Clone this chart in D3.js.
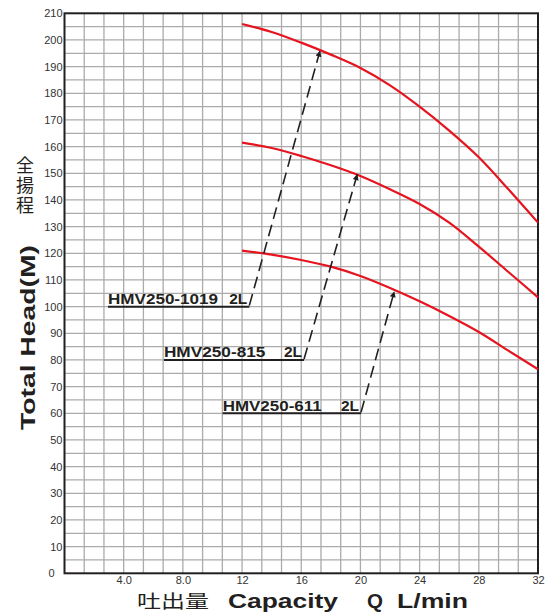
<!DOCTYPE html>
<html><head><meta charset="utf-8">
<script src="https://cdn.jsdelivr.net/npm/d3@7"></script>
<style>
body{margin:0;background:#fff;}
svg{display:block;font-family:"Liberation Sans",Arial,sans-serif;}
</style></head>
<body><svg id="c" width="558" height="613"></svg>
<script>
// ---- data ----
const flowQ = [12, 14, 16, 18, 20, 22, 24, 26, 28, 30, 32];
const head1019 = [206, 203, 199, 194.5, 189.5, 183, 175, 166, 156, 144, 131.5];
const head815  = [161.5, 159.5, 156.5, 153, 149, 144, 138.5, 131.5, 122.5, 113, 103.5];
const head611  = [121, 119.5, 117.5, 115, 111.5, 107, 102, 96.5, 90.5, 83.5, 76.5];
const modelNames = ["HMV250-1019", "HMV250-815", "HMV250-611"];
const modelSuffix = ["2L", "2L", "2L"];
// label anchor (Q,H), dashed-line start (Q,H), arrow tip on curve (Q,H)
const labelStartQ = [2.94, 6.72, 10.69];
const labelH = [100, 80, 60];
const dashStartQ = [12.49, 16.19, 20.04];
const tipQ = [17.27, 19.79, 22.29];
const tipH = [196, 149.7, 105.8];
const xTickValues = [4, 8, 12, 16, 20, 24, 28, 32];
const xTickLabels = ["4.0", "8.0", "12", "16", "20", "24", "28", "32"];
const yTickValues = d3.range(0, 211, 10);

// ---- layout ----
const svg = d3.select("#c");
const L = 64.5, R = 538, T = 13.3, B = 573.3;
const x = d3.scaleLinear().domain([0, 32]).range([L, R]);
const y = d3.scaleLinear().domain([0, 210]).range([B, T]);

// grid
const g = svg.append("g");
g.selectAll("line.v").data(d3.range(1, 24)).join("line")
  .attr("x1", i => x(i * 4 / 3)).attr("x2", i => x(i * 4 / 3))
  .attr("y1", T).attr("y2", B)
  .attr("stroke", "#ababab").attr("stroke-width", 1.3);
g.selectAll("line.h").data(d3.range(1, 42)).join("line")
  .attr("y1", i => y(i * 5)).attr("y2", i => y(i * 5))
  .attr("x1", L).attr("x2", R)
  .attr("stroke", "#ababab").attr("stroke-width", 1.3);

// axes labels via d3 axes
const yAxis = d3.axisLeft(y).tickValues(yTickValues).tickSize(0).tickPadding(2);
const ya = svg.append("g").attr("transform", `translate(${L},0)`).call(yAxis);
ya.select(".domain").remove();
ya.selectAll("text").attr("font-size", 11).attr("fill", "#333")
  .attr("font-family", "'Liberation Sans',Arial,sans-serif")
  .attr("dx", d => d === 0 ? -8 : 0);

const xAxis = d3.axisBottom(x).tickValues(xTickValues)
  .tickFormat((d, i) => xTickLabels[i]).tickSize(0).tickPadding(3);
const xa = svg.append("g").attr("transform", `translate(0,${B})`).call(xAxis);
xa.select(".domain").remove();
xa.selectAll("text").attr("font-size", 11).attr("fill", "#333")
  .attr("font-family", "'Liberation Sans',Arial,sans-serif");

// frame
svg.append("rect").attr("x", L).attr("y", T).attr("width", R - L).attr("height", B - T)
  .attr("fill", "none").attr("stroke", "#231f20").attr("stroke-width", 2);

// curves
const line = d3.line().x(d => x(d[0])).y(d => y(d[1])).curve(d3.curveCatmullRom.alpha(0.5));
[head1019, head815, head611].forEach(hs => {
  svg.append("path").datum(flowQ.map((q, i) => [q, hs[i]]))
    .attr("d", line).attr("fill", "none")
    .attr("stroke", "#e5141e").attr("stroke-width", 2.2);
});

// annotations
const defs = svg.append("defs");
defs.append("marker").attr("id", "ah").attr("viewBox", "0 0 10 10")
  .attr("refX", 10).attr("refY", 5).attr("markerWidth", 9).attr("markerHeight", 6)
  .attr("markerUnits", "userSpaceOnUse").attr("orient", "auto")
  .append("path").attr("d", "M0,0 L10,5 L0,10 Z").attr("fill", "#231f20");

modelNames.forEach((name, i) => {
  const x0 = x(labelStartQ[i]), x1 = x(dashStartQ[i]), yy = y(labelH[i]);
  svg.append("line").attr("x1", x0).attr("x2", x1).attr("y1", yy).attr("y2", yy)
    .attr("stroke", "#231f20").attr("stroke-width", 2);
  svg.append("line").attr("x1", x1).attr("y1", yy - 1)
    .attr("x2", x(tipQ[i])).attr("y2", y(tipH[i]))
    .attr("stroke", "#231f20").attr("stroke-width", 1.6)
    .attr("stroke-dasharray", "12,6").attr("marker-end", "url(#ah)");
  const nameW = [110, 101.5, 99][i];
  svg.append("text").attr("x", x0).attr("y", yy - 2.5)
    .attr("font-size", 15.5).attr("font-weight", "bold").attr("fill", "#231f20")
    .attr("textLength", nameW).attr("lengthAdjust", "spacingAndGlyphs").text(name);
  svg.append("text").attr("x", x1 - 2).attr("y", yy - 2.5).attr("text-anchor", "end")
    .attr("font-size", 15.5).attr("font-weight", "bold").attr("fill", "#231f20")
    .text(modelSuffix[i]);
});

// y title
svg.append("text").attr("transform", "translate(35,337.5) rotate(-90)")
  .attr("text-anchor", "middle").attr("font-size", 21).attr("font-weight", "bold")
  .attr("fill", "#231f20").attr("textLength", 185).attr("lengthAdjust", "spacingAndGlyphs")
  .text("Total Head(M)");
svg.append("text").attr("x", 25).attr("y", 156)
  .style("writing-mode", "vertical-rl").style("text-orientation", "upright")
  .attr("font-family", "'Noto Sans CJK JP',sans-serif").attr("font-size", 18)
  .attr("letter-spacing", 2).attr("fill", "#231f20").text("全揚程");

// x title
const xt = [["吐出量", 137, 72, "'Noto Sans CJK JP',sans-serif", "normal", 18.5],
            ["Capacity", 228, 110, null, "bold", 19.5],
            ["Q", 367, 16, null, "bold", 19.5],
            ["L/min", 397, 71, null, "bold", 19.5]];
xt.forEach(([s, xx, w, ff, fw, fs]) => {
  const t = svg.append("text").attr("x", xx).attr("y", 608)
    .attr("font-size", fs).attr("font-weight", fw).attr("fill", "#231f20")
    .attr("textLength", w).attr("lengthAdjust", "spacingAndGlyphs").text(s);
  if (ff) t.attr("font-family", ff);
});
</script></body></html>
